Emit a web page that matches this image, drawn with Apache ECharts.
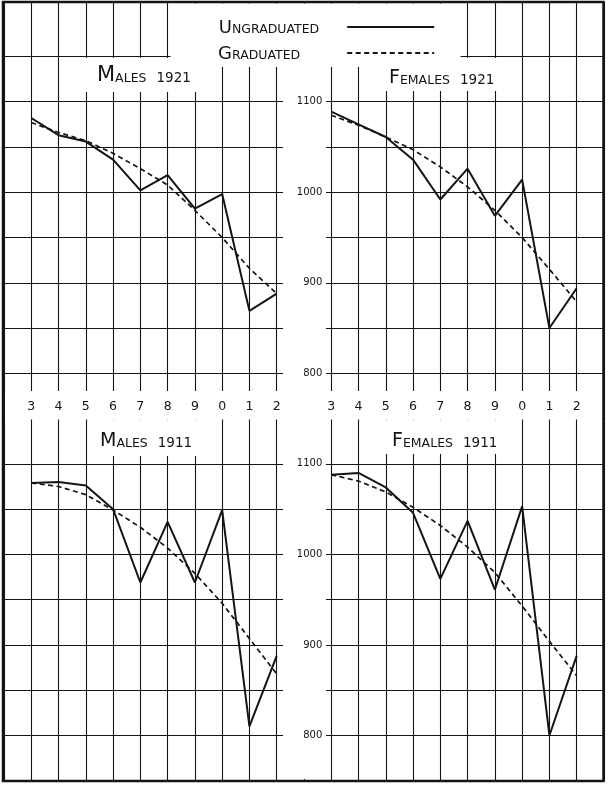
<!DOCTYPE html>
<html><head><meta charset="utf-8">
<script src="https://cdn.jsdelivr.net/npm/echarts@6/dist/echarts.min.js"></script>
<style>html,body{margin:0;padding:0;background:#fff}#c{width:610px;height:787px}</style>
</head><body><div id="c"></div>
<script>
// ---- data ----
const ageDigits = ['3','4','5','6','7','8','9','0','1','2'];
const seriesNames = ['Ungraduated', 'Graduated'];
const panelTitles = ['Males 1921', 'Females 1921', 'Males 1911', 'Females 1911'];
const males1921Ungraduated   = [1082, 1063, 1056, 1036, 1002, 1019, 982, 998, 869, 888];
const males1921Graduated     = [1077, 1066, 1057, 1043, 1026, 1008, 980, 950, 916, 888];
const females1921Ungraduated = [1089, 1075, 1061, 1036, 992, 1026, 974, 1014, 850, 894];
const females1921Graduated   = [1085, 1074, 1061, 1047, 1028, 1006, 980, 950, 915, 879];
const males1911Ungraduated   = [1079, 1080, 1076, 1050, 969, 1036, 969, 1049, 810, 888];
const males1911Graduated     = [1079, 1075, 1066, 1049, 1030, 1007, 979, 946, 907, 868];
const females1911Ungraduated = [1088, 1090, 1074, 1046, 973, 1037, 961, 1053, 800, 888];
const females1911Graduated   = [1088, 1081, 1069, 1052, 1032, 1008, 980, 943, 904, 866];
const yMin = 800, yMax = 1100, yLabelStep = 100;

// ---- layout (graph paper) ----
const INK = '#141414';
const FONT = 'DejaVu Sans';
const PX0 = 4, COLW = 27.27;          // vertical rules
const PY0 = 11.17, ROWH = 45.27;      // horizontal rules
const panelW = 9 * COLW, panelH = 6 * ROWH;
const panels = [
  {left: PX0 + COLW,      top: PY0 + 2 * ROWH,  labelsX: true,  labelsY: false, ung: males1921Ungraduated,   grad: males1921Graduated},
  {left: PX0 + 12 * COLW, top: PY0 + 2 * ROWH,  labelsX: true,  labelsY: true,  ung: females1921Ungraduated, grad: females1921Graduated},
  {left: PX0 + COLW,      top: PY0 + 10 * ROWH, labelsX: false, labelsY: false, ung: males1911Ungraduated,   grad: males1911Graduated},
  {left: PX0 + 12 * COLW, top: PY0 + 10 * ROWH, labelsX: false, labelsY: true,  ung: females1911Ungraduated, grad: females1911Graduated}
];

const grids = [
  {left: PX0, top: 2, width: 22 * COLW, height: 779},
  {left: PX0, top: PY0 + ROWH, width: 22 * COLW, height: 16 * ROWH}
];
const xAxes = [
  {gridIndex: 0, type: 'value', min: 0, max: 22, interval: 1, z: 0,
   axisLine: {show: false}, axisTick: {show: false}, axisLabel: {show: false},
   splitLine: {show: true, lineStyle: {color: INK, width: 1.1}}},
  {gridIndex: 1, type: 'value', min: 0, max: 1, show: false, splitLine: {show: false}}
];
const yAxes = [
  {gridIndex: 0, type: 'value', min: 0, max: 1, show: false, splitLine: {show: false}},
  {gridIndex: 1, type: 'value', min: 1, max: 17, interval: 1, inverse: true, z: 0,
   axisLine: {show: false}, axisTick: {show: false}, axisLabel: {show: false},
   splitLine: {show: true, lineStyle: {color: INK, width: 1.1}}}
];
const series = [];
panels.forEach((p, i) => {
  const gi = i + 2;
  grids.push({left: p.left, top: p.top, width: panelW, height: panelH});
  xAxes.push({gridIndex: gi, type: 'category', data: ageDigits, boundaryGap: false, z: 3,
    axisLine: {show: false}, axisTick: {show: false}, splitLine: {show: false},
    axisLabel: {show: p.labelsX, margin: 27, color: INK, fontFamily: FONT, fontSize: 12.5}});
  yAxes.push({gridIndex: gi, type: 'value', min: yMin, max: yMax, interval: yLabelStep, z: 3,
    axisLine: {show: false}, axisTick: {show: false}, splitLine: {show: false},
    axisLabel: {show: p.labelsY, margin: 9, color: INK, fontFamily: FONT, fontSize: 10,
      formatter: (v) => String(v)}});
  series.push({type: 'line', name: seriesNames[0], xAxisIndex: gi, yAxisIndex: gi, data: p.ung,
    symbol: 'none', clip: false, z: 5, itemStyle: {color: INK}, lineStyle: {color: INK, width: 2}});
  series.push({type: 'line', name: seriesNames[1], xAxisIndex: gi, yAxisIndex: gi, data: p.grad,
    symbol: 'none', clip: false, z: 5, itemStyle: {color: INK}, lineStyle: {color: INK, width: 1.7, type: [5, 3.5]}});
});

function smallCaps(word, big, small) {
  return '{' + big + '|' + word[0].toUpperCase() + '}{' + small + '|' + word.slice(1).toUpperCase() + '}';
}
function titleText(t) {
  const parts = t.split(' ');
  return smallCaps(parts[0], 'b', 's') + '{g| }{n|' + parts[1] + '}';
}
const titleRich = (bs) => ({
  b: {fontFamily: FONT, fontWeight: 'normal', fontSize: bs, color: INK, lineHeight: 22, verticalAlign: 'bottom'},
  s: {fontFamily: FONT, fontWeight: 'normal', fontSize: 12.5, color: INK, lineHeight: 22, verticalAlign: 'bottom', padding: [0, 0, 1, 0]},
  g: {fontFamily: FONT, fontWeight: 'normal', fontSize: 12, lineHeight: 22, width: 10},
  n: {fontFamily: FONT, fontWeight: 'normal', fontSize: 13.5, color: INK, lineHeight: 22, verticalAlign: 'bottom', padding: [0, 0, 1, 0]}
});
const titlePos = [[97, 64, 21], [389, 66, 19], [100, 429, 19], [392, 429, 19]];
const titles = panelTitles.map((t, i) => ({
  text: titleText(t), left: titlePos[i][0], top: titlePos[i][1], padding: 0,
  textStyle: {fontWeight: 'normal', rich: titleRich(titlePos[i][2])}
}));

const white = (x, y, w, h) => ({type: 'rect', z: 1, shape: {x, y, width: w, height: h},
  style: {fill: '#fff', stroke: null}, silent: true});

const option = {
  animation: false,
  backgroundColor: '#fff',
  title: titles,
  legend: {
    data: seriesNames, orient: 'vertical', left: 213, top: 14, align: 'right',
    itemWidth: 87, itemHeight: 12, itemGap: 8, selectedMode: false,
    itemStyle: {color: 'rgba(0,0,0,0)', borderColor: 'rgba(0,0,0,0)', borderWidth: 0},
    formatter: (n) => smallCaps(n, 'c', 's') + (n === 'Ungraduated' ? '{p1|}' : '{p2|}'),
    textStyle: {rich: {
      c: {fontFamily: FONT, fontSize: 18, color: INK, lineHeight: 20, verticalAlign: 'bottom'},
      s: {fontFamily: FONT, fontSize: 12.5, color: INK, lineHeight: 20, verticalAlign: 'bottom', padding: [0, 0, 1, 0]},
      p1: {width: 23, lineHeight: 20},
      p2: {width: 42, lineHeight: 20}
    }}
  },
  grid: grids,
  xAxis: xAxes,
  yAxis: yAxes,
  series: series,
  graphic: [
    white(170.5, 3.5, 290, 54.5),                 // legend area
    white(72, 58, 136, 34),                       // Males 1921 title
    white(208, 58, 164, 9),
    white(372, 58, 136, 33),                      // Females 1921 title
    white(5, 391, 597, 28.5),                     // age-digit row
    white(99, 419.5, 109, 36.5),                  // Males 1911 title
    white(372, 419.5, 136, 34.5),                 // Females 1911 title
    white(283, 58, 43, 721),                      // central label column
    {type: 'rect', z: 6, silent: true, shape: {x: 3, y: 2, width: 600.5, height: 779},
     style: {fill: null, stroke: INK, lineWidth: 2.5}}
  ]
};
const chart = echarts.init(document.getElementById('c'), null, {renderer: 'canvas'});
chart.setOption(option);
</script></body></html>
